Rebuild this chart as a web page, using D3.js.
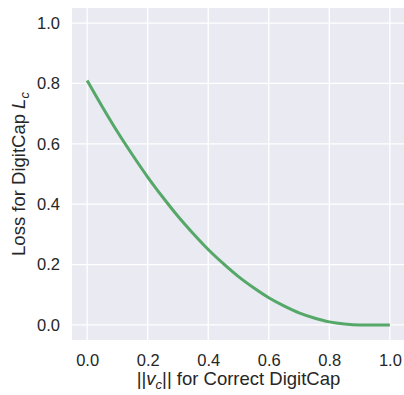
<!DOCTYPE html>
<html lang="en">
<head>
	<meta charset="UTF-8" />
	<script src="https://d3js.org/d3.v7.min.js"></script>
	<style>
		body { margin: 0; background: #fff; }
		text { font-family: "Liberation Sans", Arial, sans-serif; fill: #262626; }
	</style>
</head>
<body>
	<svg width="404" height="395"></svg>
	<script>
		// values
		var lengths = [0, 0.05, 0.1, 0.15, 0.2, 0.25, 0.3, 0.35, 0.4, 0.45, 0.5,
			0.55, 0.6, 0.65, 0.7, 0.75, 0.8, 0.85, 0.9, 0.95, 1.0]
		var losses = [0.81, 0.723, 0.64, 0.563, 0.49, 0.423, 0.36, 0.303, 0.25, 0.203, 0.16,
			0.123, 0.09, 0.063, 0.04, 0.023, 0.01, 0.003, 0, 0, 0]
		var xTicks = [0, 0.2, 0.4, 0.6, 0.8, 1.0]
		var yTicks = [0, 0.2, 0.4, 0.6, 0.8, 1.0]

		var plotL = 72, plotR = 405, plotT = 8, plotB = 340

		var svg = d3.select("svg")
		var x = d3.scaleLinear().domain([-0.05, 1.05]).range([plotL, plotR])
		var y = d3.scaleLinear().domain([-0.05, 1.05]).range([plotB, plotT])

		svg.append("rect")
			.attr("x", plotL).attr("y", plotT)
			.attr("width", plotR - plotL).attr("height", plotB - plotT)
			.attr("fill", "#eaeaf2")

		// grid
		svg.append("g").selectAll("line").data(xTicks).enter().append("line")
			.attr("x1", d => x(d)).attr("x2", d => x(d))
			.attr("y1", plotT).attr("y2", plotB)
			.attr("stroke", "#fff").attr("stroke-width", 1.3)
		svg.append("g").selectAll("line").data(yTicks).enter().append("line")
			.attr("y1", d => y(d)).attr("y2", d => y(d))
			.attr("x1", plotL).attr("x2", plotR)
			.attr("stroke", "#fff").attr("stroke-width", 1.3)

		// axes, no domain line or ticks
		svg.append("g")
			.attr("transform", "translate(0," + plotB + ")")
			.call(d3.axisBottom(x).tickValues(xTicks).tickFormat(d3.format(".1f")).tickSize(0).tickPadding(14))
		svg.append("g")
			.attr("transform", "translate(" + plotL + ",0)")
			.call(d3.axisLeft(y).tickValues(yTicks).tickFormat(d3.format(".1f")).tickSize(0).tickPadding(12))
		svg.selectAll(".domain").remove()
		svg.selectAll(".tick text")
			.attr("fill", "#262626")
			.style("font-size", "16.5px")
			.style("font-family", "'Liberation Sans', Arial, sans-serif")

		// curve
		var line = d3.line()
			.x((d, i) => x(lengths[i]))
			.y(d => y(d))
			.curve(d3.curveMonotoneX)
		svg.append("path")
			.datum(losses)
			.attr("d", line)
			.attr("fill", "none")
			.attr("stroke", "#55a868")
			.attr("stroke-width", 3)

		// axis labels
		var xl = svg.append("text")
			.attr("x", (plotL + plotR) / 2).attr("y", 385)
			.attr("text-anchor", "middle")
			.style("font-size", "18.5px")
		xl.append("tspan").text("||")
		xl.append("tspan").style("font-style", "italic").text("v")
		xl.append("tspan").attr("dy", 4).style("font-size", "13px").style("font-style", "italic").text("c")
		xl.append("tspan").attr("dy", -4).text("|| for Correct DigitCap")

		var yl = svg.append("text")
			.attr("transform", "translate(25," + (plotT + plotB) / 2 + ") rotate(-90)")
			.attr("text-anchor", "middle")
			.style("font-size", "18.5px")
		yl.append("tspan").text("Loss for DigitCap ")
		yl.append("tspan").style("font-style", "italic").text("L")
		yl.append("tspan").attr("dy", 4).style("font-size", "13px").style("font-style", "italic").text("c")
	</script>
</body>
</html>
